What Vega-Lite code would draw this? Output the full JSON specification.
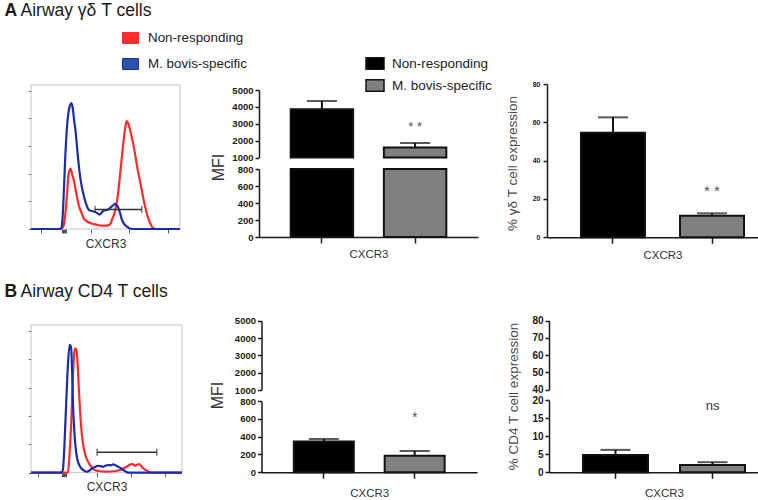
{
"$schema": "https://vega.github.io/schema/vega-lite/v6.json",
"width": 758, "height": 500, "padding": 0, "autosize": {"type": "none"},
"background": "white",
"config": {"font": "Liberation Sans", "view": {"stroke": null},
  "axis": {"grid": false, "labelFont": "Liberation Sans", "titleFont": "Liberation Sans", "domainColor": "#1a1a1a", "tickColor": "#1a1a1a", "labelColor": "#1a1a1a", "titleColor": "#333333", "titleFontWeight": "normal"},
  "legend": {"labelFont": "Liberation Sans"}},
"datasets": {
  "histA": [
    {"series":"Non-responding","x":0,"y":0},{"series":"Non-responding","x":200,"y":0},{"series":"Non-responding","x":218,"y":2},{"series":"Non-responding","x":232,"y":12},{"series":"Non-responding","x":241,"y":23},{"series":"Non-responding","x":252,"y":38},{"series":"Non-responding","x":264,"y":42},{"series":"Non-responding","x":276,"y":38},{"series":"Non-responding","x":287,"y":34},{"series":"Non-responding","x":305,"y":24},{"series":"Non-responding","x":322,"y":16},{"series":"Non-responding","x":340,"y":11},{"series":"Non-responding","x":356,"y":7},{"series":"Non-responding","x":380,"y":5},{"series":"Non-responding","x":402,"y":4},{"series":"Non-responding","x":440,"y":3},{"series":"Non-responding","x":471,"y":2.3},{"series":"Non-responding","x":500,"y":2.3},{"series":"Non-responding","x":522,"y":2.7},{"series":"Non-responding","x":535,"y":4},{"series":"Non-responding","x":545,"y":6.8},{"series":"Non-responding","x":560,"y":11},{"series":"Non-responding","x":575,"y":18},{"series":"Non-responding","x":590,"y":30},{"series":"Non-responding","x":605,"y":45},{"series":"Non-responding","x":620,"y":60},{"series":"Non-responding","x":632,"y":70},{"series":"Non-responding","x":642,"y":75},{"series":"Non-responding","x":650,"y":74},{"series":"Non-responding","x":667,"y":68},{"series":"Non-responding","x":680,"y":62},{"series":"Non-responding","x":690,"y":57},{"series":"Non-responding","x":700,"y":51},{"series":"Non-responding","x":713,"y":43},{"series":"Non-responding","x":730,"y":34},{"series":"Non-responding","x":747,"y":25},{"series":"Non-responding","x":765,"y":16},{"series":"Non-responding","x":782,"y":9},{"series":"Non-responding","x":800,"y":4},{"series":"Non-responding","x":816,"y":1},{"series":"Non-responding","x":839,"y":0},{"series":"Non-responding","x":1000,"y":0},
    {"series":"M. bovis-specific","x":0,"y":0},{"series":"M. bovis-specific","x":195,"y":0},{"series":"M. bovis-specific","x":207,"y":2},{"series":"M. bovis-specific","x":218,"y":20},{"series":"M. bovis-specific","x":230,"y":50},{"series":"M. bovis-specific","x":245,"y":75},{"series":"M. bovis-specific","x":262,"y":86},{"series":"M. bovis-specific","x":271,"y":87.5},{"series":"M. bovis-specific","x":280,"y":84},{"series":"M. bovis-specific","x":290,"y":75},{"series":"M. bovis-specific","x":299,"y":68},{"series":"M. bovis-specific","x":315,"y":50},{"series":"M. bovis-specific","x":333,"y":34},{"series":"M. bovis-specific","x":350,"y":25},{"series":"M. bovis-specific","x":368,"y":18},{"series":"M. bovis-specific","x":391,"y":13},{"series":"M. bovis-specific","x":410,"y":12.5},{"series":"M. bovis-specific","x":425,"y":12},{"series":"M. bovis-specific","x":445,"y":11},{"series":"M. bovis-specific","x":460,"y":10},{"series":"M. bovis-specific","x":472,"y":11},{"series":"M. bovis-specific","x":483,"y":12.5},{"series":"M. bovis-specific","x":500,"y":13},{"series":"M. bovis-specific","x":517,"y":13.6},{"series":"M. bovis-specific","x":530,"y":14.5},{"series":"M. bovis-specific","x":540,"y":15.5},{"series":"M. bovis-specific","x":552,"y":16.5},{"series":"M. bovis-specific","x":563,"y":17.5},{"series":"M. bovis-specific","x":572,"y":17},{"series":"M. bovis-specific","x":586,"y":14.8},{"series":"M. bovis-specific","x":598,"y":11},{"series":"M. bovis-specific","x":609,"y":6.8},{"series":"M. bovis-specific","x":625,"y":3.5},{"series":"M. bovis-specific","x":644,"y":1.6},{"series":"M. bovis-specific","x":660,"y":0.5},{"series":"M. bovis-specific","x":678,"y":0},{"series":"M. bovis-specific","x":1000,"y":0}
  ],
  "histB": [
    {"series":"Non-responding","x":0,"y":0},{"series":"Non-responding","x":244,"y":0},{"series":"Non-responding","x":255,"y":12},{"series":"Non-responding","x":267,"y":35.7},{"series":"Non-responding","x":278,"y":65},{"series":"Non-responding","x":289,"y":84},{"series":"Non-responding","x":297,"y":84},{"series":"Non-responding","x":304,"y":80.8},{"series":"Non-responding","x":313,"y":65},{"series":"Non-responding","x":322,"y":47},{"series":"Non-responding","x":333,"y":30},{"series":"Non-responding","x":344,"y":20},{"series":"Non-responding","x":360,"y":12},{"series":"Non-responding","x":378,"y":7.4},{"series":"Non-responding","x":400,"y":4},{"series":"Non-responding","x":422,"y":1.8},{"series":"Non-responding","x":460,"y":1},{"series":"Non-responding","x":500,"y":0.7},{"series":"Non-responding","x":550,"y":1},{"series":"Non-responding","x":589,"y":1.8},{"series":"Non-responding","x":611,"y":2.8},{"series":"Non-responding","x":633,"y":4},{"series":"Non-responding","x":650,"y":5.2},{"series":"Non-responding","x":667,"y":5.9},{"series":"Non-responding","x":678,"y":5.5},{"series":"Non-responding","x":689,"y":4.7},{"series":"Non-responding","x":700,"y":5.2},{"series":"Non-responding","x":711,"y":5.9},{"series":"Non-responding","x":722,"y":5.5},{"series":"Non-responding","x":733,"y":4},{"series":"Non-responding","x":750,"y":2.5},{"series":"Non-responding","x":767,"y":1.4},{"series":"Non-responding","x":785,"y":0.5},{"series":"Non-responding","x":800,"y":0},{"series":"Non-responding","x":1000,"y":0},
    {"series":"M. bovis-specific","x":0,"y":0},{"series":"M. bovis-specific","x":200,"y":0},{"series":"M. bovis-specific","x":211,"y":2},{"series":"M. bovis-specific","x":222,"y":20},{"series":"M. bovis-specific","x":233,"y":47},{"series":"M. bovis-specific","x":244,"y":72},{"series":"M. bovis-specific","x":256,"y":86.5},{"series":"M. bovis-specific","x":262,"y":86},{"series":"M. bovis-specific","x":267,"y":83},{"series":"M. bovis-specific","x":272,"y":70},{"series":"M. bovis-specific","x":278,"y":47},{"series":"M. bovis-specific","x":289,"y":25},{"series":"M. bovis-specific","x":300,"y":13},{"series":"M. bovis-specific","x":316,"y":6},{"series":"M. bovis-specific","x":333,"y":3},{"series":"M. bovis-specific","x":350,"y":1.5},{"series":"M. bovis-specific","x":367,"y":0.7},{"series":"M. bovis-specific","x":383,"y":1.2},{"series":"M. bovis-specific","x":400,"y":2.5},{"series":"M. bovis-specific","x":422,"y":3.8},{"series":"M. bovis-specific","x":444,"y":4.7},{"series":"M. bovis-specific","x":460,"y":4.5},{"series":"M. bovis-specific","x":478,"y":4},{"series":"M. bovis-specific","x":495,"y":4.8},{"series":"M. bovis-specific","x":511,"y":5.2},{"series":"M. bovis-specific","x":528,"y":5},{"series":"M. bovis-specific","x":544,"y":5.6},{"series":"M. bovis-specific","x":560,"y":5},{"series":"M. bovis-specific","x":578,"y":4},{"series":"M. bovis-specific","x":595,"y":3},{"series":"M. bovis-specific","x":611,"y":1.8},{"series":"M. bovis-specific","x":628,"y":0.8},{"series":"M. bovis-specific","x":644,"y":0},{"series":"M. bovis-specific","x":1000,"y":0}
  ],
  "gateA": [{"x1":430,"x2":743,"y":13.6}],
  "gateB": [{"x1":438,"x2":833,"y":13.8}],
  "mfiA": [{"group":"Non-responding","mean":3860,"upper":4350,"sig":"","sigY":null},{"group":"M. bovis-specific","mean":1600,"upper":1860,"sig":"* *","sigY":2600}],
  "pctA": [{"group":"Non-responding","mean":54.6,"upper":62.6,"sig":"","sigY":null},{"group":"M. bovis-specific","mean":11.3,"upper":12.5,"sig":"* *","sigY":21.4}],
  "mfiB": [{"group":"Non-responding","mean":345,"upper":374,"sig":"","sigY":null},{"group":"M. bovis-specific","mean":186,"upper":239,"sig":"*","sigY":561}],
  "pctB": [{"group":"Non-responding","mean":4.8,"upper":6.2,"sig":"","sigY":null},{"group":"M. bovis-specific","mean":2.0,"upper":2.8,"sig":"ns","sigY":17.3}]
},
"layer": [
  {
    "layer": [
      {"data": {"values": [{}]}, "mark": {"type": "rect", "fillOpacity": 0, "stroke": "#c4c4c4", "strokeWidth": 1},
       "encoding": {
        "x": {"datum": 0, "type": "quantitative", "scale": {"domain": [0,1000], "range": [31,180], "nice": false, "zero": false}, "axis": null},
        "x2": {"datum": 1000},
        "y": {"datum": 0, "type": "quantitative", "scale": {"domain": [0,100], "range": [229,85], "nice": false, "zero": false},
              "axis": {"orient": "left", "offset": -31, "domain": false, "ticks": false, "labels": false, "title": "Airway γδ T cells", "titleX": -11, "titleY": 15.5, "titleAngle": 0, "titleAlign": "left", "titleBaseline": "alphabetic", "titleFontSize": 17.5, "titleFontWeight": "normal", "titleColor": "#1a1a1a"}},
        "y2": {"datum": 100}}},
      {"layer": [
        {"data": {"name": "histA"}, "mark": {"type": "line", "interpolate": "monotone", "strokeWidth": 2.2},
         "encoding": {
          "x": {"field": "x", "type": "quantitative", "scale": {"domain": [0,1000], "range": [31,180], "nice": false, "zero": false},
                "axis": {"orient": "bottom", "offset": -271, "domain": false, "labels": false, "values": [69,205,212,219,226,233,402,655,920], "tickSize": 4, "tickWidth": 1, "tickColor": "#555555", "title": "CXCR3", "titleFontSize": 12, "titlePadding": 5, "titleColor": "#333333"}},
          "y": {"field": "y", "type": "quantitative", "scale": {"domain": [0,100], "range": [229,85], "nice": false, "zero": false},
                "axis": {"orient": "left", "offset": -31, "domain": false, "labels": false, "values": [0,19.2,38.4,57.6,76.8,96], "tickSize": 2.5, "tickColor": "#555555", "title": "A", "titleX": -27, "titleY": 15.5, "titleAngle": 0, "titleAlign": "left", "titleBaseline": "alphabetic", "titleFontSize": 17.5, "titleFontWeight": "bold", "titleColor": "#1a1a1a"}},
          "stroke": {"field": "series", "type": "nominal", "scale": {"domain": ["Non-responding","M. bovis-specific"], "range": ["#ff2a2a","#1c2ca8"]},
            "legend": {"orient": "none", "legendX": 122, "legendY": 29.5, "direction": "vertical", "title": null, "symbolType": "M-1,-0.69H1V0.69H-1Z", "symbolSize": 256, "symbolStrokeWidth": 1, "symbolOpacity": 1, "labelFontSize": 13.4, "labelColor": "#222222", "labelOffset": 9, "rowPadding": 9, "padding": 0,
              "encode": {"symbols": {"update": {"fill": {"signal": "datum.value === 'Non-responding' ? '#ff2a2a' : '#2e52a5'"}, "stroke": {"signal": "datum.value === 'Non-responding' ? '#ff2a2a' : '#1c2c80'"}, "fillOpacity": {"value": 1}}}}}}}},
        {"data": {"name": "gateA"}, "mark": {"type": "rule", "color": "#333333", "strokeWidth": 1.5},
         "encoding": {"x": {"field": "x1", "type": "quantitative", "scale": {"domain": [0,1000], "range": [31,180], "nice": false, "zero": false},
                "axis": {"orient": "bottom", "offset": -271, "domain": false, "labels": false, "values": [69,205,212,219,226,233,402,655,920], "tickSize": 4, "tickWidth": 1, "tickColor": "#555555", "title": "CXCR3", "titleFontSize": 12, "titlePadding": 5, "titleColor": "#333333"}},
                      "x2": {"field": "x2"},
                      "y": {"field": "y", "type": "quantitative", "scale": {"domain": [0,100], "range": [229,85], "nice": false, "zero": false},
                "axis": {"orient": "left", "offset": -31, "domain": false, "labels": false, "values": [0,19.2,38.4,57.6,76.8,96], "tickSize": 2.5, "tickColor": "#555555", "title": "A", "titleX": -27, "titleY": 15.5, "titleAngle": 0, "titleAlign": "left", "titleBaseline": "alphabetic", "titleFontSize": 17.5, "titleFontWeight": "bold", "titleColor": "#1a1a1a"}}}},
        {"data": {"name": "gateA"}, "mark": {"type": "tick", "orient": "vertical", "size": 7, "thickness": 1.5, "color": "#333333"},
         "encoding": {"x": {"field": "x1", "type": "quantitative", "scale": {"domain": [0,1000], "range": [31,180], "nice": false, "zero": false},
                "axis": {"orient": "bottom", "offset": -271, "domain": false, "labels": false, "values": [69,205,212,219,226,233,402,655,920], "tickSize": 4, "tickWidth": 1, "tickColor": "#555555", "title": "CXCR3", "titleFontSize": 12, "titlePadding": 5, "titleColor": "#333333"}},
                      "y": {"field": "y", "type": "quantitative", "scale": {"domain": [0,100], "range": [229,85], "nice": false, "zero": false},
                "axis": {"orient": "left", "offset": -31, "domain": false, "labels": false, "values": [0,19.2,38.4,57.6,76.8,96], "tickSize": 2.5, "tickColor": "#555555", "title": "A", "titleX": -27, "titleY": 15.5, "titleAngle": 0, "titleAlign": "left", "titleBaseline": "alphabetic", "titleFontSize": 17.5, "titleFontWeight": "bold", "titleColor": "#1a1a1a"}}}},
        {"data": {"name": "gateA"}, "mark": {"type": "tick", "orient": "vertical", "size": 7, "thickness": 1.5, "color": "#333333"},
         "encoding": {"x": {"field": "x2", "type": "quantitative", "scale": {"domain": [0,1000], "range": [31,180], "nice": false, "zero": false},
                "axis": {"orient": "bottom", "offset": -271, "domain": false, "labels": false, "values": [69,205,212,219,226,233,402,655,920], "tickSize": 4, "tickWidth": 1, "tickColor": "#555555", "title": "CXCR3", "titleFontSize": 12, "titlePadding": 5, "titleColor": "#333333"}},
                      "y": {"field": "y", "type": "quantitative", "scale": {"domain": [0,100], "range": [229,85], "nice": false, "zero": false},
                "axis": {"orient": "left", "offset": -31, "domain": false, "labels": false, "values": [0,19.2,38.4,57.6,76.8,96], "tickSize": 2.5, "tickColor": "#555555", "title": "A", "titleX": -27, "titleY": 15.5, "titleAngle": 0, "titleAlign": "left", "titleBaseline": "alphabetic", "titleFontSize": 17.5, "titleFontWeight": "bold", "titleColor": "#1a1a1a"}}}}
      ]}
    ],
    "resolve": {"scale": {"x": "independent", "y": "independent"}, "axis": {"x": "independent", "y": "independent"}}
  },
  {
    "data": {"name": "mfiA"},
    "encoding": {"x": {"field": "group", "type": "nominal", "scale": {"domain": ["Non-responding","M. bovis-specific"], "range": [259,478], "paddingInner": 0.33, "paddingOuter": 0.34},
      "axis": {"orient": "bottom", "offset": -263, "labels": false, "tickSize": 6, "tickWidth": 1.5, "domainWidth": 1.5, "title": "CXCR3", "titleFontSize": 11.5, "titlePadding": 5, "titleColor": "#333333"}}},
    "layer": [
      {"layer": [
        {"transform": [{"filter": "datum.mean > 1000"}], "mark": {"type": "bar", "stroke": "#111111", "strokeWidth": 2},
         "encoding": {"y": {"field": "mean", "type": "quantitative", "scale": {"domain": [1000,5000], "range": [157.5,90], "nice": false, "zero": false},
            "axis": {"orient": "left", "offset": -259, "values": [1000,2000,3000,4000,5000], "format": "d", "tickSize": 4, "tickWidth": 1.5, "domainWidth": 1.5, "labelFontSize": 9.5, "labelFontWeight": "bold", "labelPadding": 2, "title": null}},
           "y2": {"datum": 1000},
           "fill": {"field": "group", "type": "nominal", "scale": {"domain": ["Non-responding","M. bovis-specific"], "range": ["#000000","#808080"]},
             "legend": {"orient": "none", "legendX": 365, "legendY": 53.5, "direction": "vertical", "title": null, "symbolType": "M-1,-0.65H1V0.65H-1Z", "symbolSize": 324, "symbolStrokeColor": "#111111", "symbolStrokeWidth": 1.5, "symbolOpacity": 1, "labelFontSize": 13.5, "labelColor": "#222222", "labelOffset": 7, "rowPadding": 3, "padding": 0}}}},
        {"transform": [{"filter": "datum.mean > 1000"}], "mark": {"type": "rule", "color": "#111111", "strokeWidth": 2},
         "encoding": {"y": {"field": "mean", "type": "quantitative", "scale": {"domain": [1000,5000], "range": [157.5,90], "nice": false, "zero": false},
            "axis": {"orient": "left", "offset": -259, "values": [1000,2000,3000,4000,5000], "format": "d", "tickSize": 4, "tickWidth": 1.5, "domainWidth": 1.5, "labelFontSize": 9.5, "labelFontWeight": "bold", "labelPadding": 2, "title": null}},
           "y2": {"field": "upper"}}},
        {"transform": [{"filter": "datum.mean > 1000"}], "mark": {"type": "tick", "orient": "horizontal", "size": 30, "thickness": 2, "color": "#111111"},
         "encoding": {"y": {"field": "upper", "type": "quantitative", "scale": {"domain": [1000,5000], "range": [157.5,90], "nice": false, "zero": false},
            "axis": {"orient": "left", "offset": -259, "values": [1000,2000,3000,4000,5000], "format": "d", "tickSize": 4, "tickWidth": 1.5, "domainWidth": 1.5, "labelFontSize": 9.5, "labelFontWeight": "bold", "labelPadding": 2, "title": null}}}},
        {"transform": [{"filter": "datum.sig !== '' && datum.sigY > 1000"}], "mark": {"type": "text", "fontSize": 13, "color": "#555555", "baseline": "alphabetic"},
         "encoding": {"y": {"field": "sigY", "type": "quantitative", "scale": {"domain": [1000,5000], "range": [157.5,90], "nice": false, "zero": false},
            "axis": {"orient": "left", "offset": -259, "values": [1000,2000,3000,4000,5000], "format": "d", "tickSize": 4, "tickWidth": 1.5, "domainWidth": 1.5, "labelFontSize": 9.5, "labelFontWeight": "bold", "labelPadding": 2, "title": null}},
           "text": {"field": "sig"}}}
      ]},
      {"layer": [
        {"mark": {"type": "bar", "stroke": "#111111", "strokeWidth": 2},
         "encoding": {"y": {"field": "mean", "type": "quantitative", "scale": {"domain": [0,800], "range": [237,169], "nice": false, "zero": false, "clamp": true},
            "axis": {"orient": "left", "offset": -259, "values": [0,200,400,600,800], "format": "d", "tickSize": 4, "tickWidth": 1.5, "domainWidth": 1.5, "labelFontSize": 9.5, "labelFontWeight": "bold", "labelPadding": 2,
                     "title": "MFI", "titleX": -41, "titleY": 167, "titleAngle": 270, "titleAlign": "center", "titleBaseline": "middle", "titleFontSize": 16, "titleColor": "#333333"}},
           "y2": {"datum": 0},
           "fill": {"field": "group", "type": "nominal", "scale": {"domain": ["Non-responding","M. bovis-specific"], "range": ["#000000","#808080"]},
             "legend": {"orient": "none", "legendX": 365, "legendY": 53.5, "direction": "vertical", "title": null, "symbolType": "M-1,-0.65H1V0.65H-1Z", "symbolSize": 324, "symbolStrokeColor": "#111111", "symbolStrokeWidth": 1.5, "symbolOpacity": 1, "labelFontSize": 13.5, "labelColor": "#222222", "labelOffset": 7, "rowPadding": 3, "padding": 0}}}}
      ]}
    ],
    "resolve": {"scale": {"y": "independent"}, "axis": {"y": "independent"}}
  },
  {
    "data": {"name": "pctA"},
    "encoding": {"x": {"field": "group", "type": "nominal", "scale": {"domain": ["Non-responding","M. bovis-specific"], "range": [547,778], "paddingInner": 0.354, "paddingOuter": 0.343},
      "axis": {"orient": "bottom", "offset": -262.7, "labels": false, "tickSize": 6, "tickWidth": 1.5, "domainWidth": 1.5, "title": "CXCR3", "titleFontSize": 11.5, "titlePadding": 5, "titleColor": "#333333"}}},
    "layer": [
      {"mark": {"type": "bar", "stroke": "#111111", "strokeWidth": 2},
       "encoding": {"y": {"field": "mean", "type": "quantitative", "scale": {"domain": [0,80], "range": [237.3,84], "nice": false, "zero": false},
          "axis": {"orient": "left", "offset": -547, "values": [0,20,40,60,80], "tickSize": 4, "tickWidth": 1.5, "domainWidth": 1.5, "labelFontSize": 7, "labelFontWeight": "bold", "labelPadding": 3,
                   "title": "% γδ T cell expression", "titleX": -35, "titleY": 163, "titleAngle": 270, "titleAlign": "center", "titleBaseline": "middle", "titleFontSize": 13.5, "titleColor": "#4a4a4a"}},
         "y2": {"datum": 0},
         "fill": {"field": "group", "type": "nominal", "scale": {"domain": ["Non-responding","M. bovis-specific"], "range": ["#000000","#808080"]}, "legend": null}}},
      {"mark": {"type": "rule", "color": "#111111", "strokeWidth": 2},
       "encoding": {"y": {"field": "mean", "type": "quantitative", "scale": {"domain": [0,80], "range": [237.3,84], "nice": false, "zero": false},
          "axis": {"orient": "left", "offset": -547, "values": [0,20,40,60,80], "tickSize": 4, "tickWidth": 1.5, "domainWidth": 1.5, "labelFontSize": 7, "labelFontWeight": "bold", "labelPadding": 3,
                   "title": "% γδ T cell expression", "titleX": -35, "titleY": 163, "titleAngle": 270, "titleAlign": "center", "titleBaseline": "middle", "titleFontSize": 13.5, "titleColor": "#4a4a4a"}},
         "y2": {"field": "upper"}}},
      {"mark": {"type": "tick", "orient": "horizontal", "size": 30, "thickness": 2, "color": "#111111"},
       "encoding": {"y": {"field": "upper", "type": "quantitative", "scale": {"domain": [0,80], "range": [237.3,84], "nice": false, "zero": false},
          "axis": {"orient": "left", "offset": -547, "values": [0,20,40,60,80], "tickSize": 4, "tickWidth": 1.5, "domainWidth": 1.5, "labelFontSize": 7, "labelFontWeight": "bold", "labelPadding": 3,
                   "title": "% γδ T cell expression", "titleX": -35, "titleY": 163, "titleAngle": 270, "titleAlign": "center", "titleBaseline": "middle", "titleFontSize": 13.5, "titleColor": "#4a4a4a"}}}},
      {"transform": [{"filter": "datum.sig !== ''"}], "mark": {"type": "text", "fontSize": 15, "color": "#555555", "baseline": "alphabetic"},
       "encoding": {"y": {"field": "sigY", "type": "quantitative", "scale": {"domain": [0,80], "range": [237.3,84], "nice": false, "zero": false},
          "axis": {"orient": "left", "offset": -547, "values": [0,20,40,60,80], "tickSize": 4, "tickWidth": 1.5, "domainWidth": 1.5, "labelFontSize": 7, "labelFontWeight": "bold", "labelPadding": 3,
                   "title": "% γδ T cell expression", "titleX": -35, "titleY": 163, "titleAngle": 270, "titleAlign": "center", "titleBaseline": "middle", "titleFontSize": 13.5, "titleColor": "#4a4a4a"}},
         "text": {"field": "sig"}}}
    ]
  },
  {
    "layer": [
      {"data": {"values": [{}]}, "mark": {"type": "rect", "fillOpacity": 0, "stroke": "#c4c4c4", "strokeWidth": 1},
       "encoding": {
        "x": {"datum": 0, "type": "quantitative", "scale": {"domain": [0,1000], "range": [31,182], "nice": false, "zero": false}, "axis": null},
        "x2": {"datum": 1000},
        "y": {"datum": 0, "type": "quantitative", "scale": {"domain": [0,100], "range": [472.7,325], "nice": false, "zero": false},
              "axis": {"orient": "left", "offset": -31, "domain": false, "ticks": false, "labels": false, "title": "Airway CD4 T cells", "titleX": -11, "titleY": 296, "titleAngle": 0, "titleAlign": "left", "titleBaseline": "alphabetic", "titleFontSize": 17.5, "titleFontWeight": "normal", "titleColor": "#1a1a1a"}},
        "y2": {"datum": 100}}},
      {"layer": [
        {"data": {"name": "histB"}, "mark": {"type": "line", "interpolate": "monotone", "strokeWidth": 2.2},
         "encoding": {
          "x": {"field": "x", "type": "quantitative", "scale": {"domain": [0,1000], "range": [31,182], "nice": false, "zero": false},
                "axis": {"orient": "bottom", "offset": -27.3, "domain": false, "labels": false, "values": [45,205,212,219,226,233,440,660,890], "tickSize": 4, "tickWidth": 1, "tickColor": "#555555", "title": "CXCR3", "titleFontSize": 12, "titlePadding": 4, "titleColor": "#333333"}},
          "y": {"field": "y", "type": "quantitative", "scale": {"domain": [0,100], "range": [472.7,325], "nice": false, "zero": false},
                "axis": {"orient": "left", "offset": -31, "domain": false, "labels": false, "values": [0,19.2,38.4,57.6,76.8,96], "tickSize": 2.5, "tickColor": "#555555", "title": "B", "titleX": -27, "titleY": 296, "titleAngle": 0, "titleAlign": "left", "titleBaseline": "alphabetic", "titleFontSize": 17.5, "titleFontWeight": "bold", "titleColor": "#1a1a1a"}},
          "stroke": {"field": "series", "type": "nominal", "scale": {"domain": ["Non-responding","M. bovis-specific"], "range": ["#ff2a2a","#1c2ca8"]}, "legend": null}}},
        {"data": {"name": "gateB"}, "mark": {"type": "rule", "color": "#333333", "strokeWidth": 1.5},
         "encoding": {"x": {"field": "x1", "type": "quantitative", "scale": {"domain": [0,1000], "range": [31,182], "nice": false, "zero": false},
                "axis": {"orient": "bottom", "offset": -27.3, "domain": false, "labels": false, "values": [45,205,212,219,226,233,440,660,890], "tickSize": 4, "tickWidth": 1, "tickColor": "#555555", "title": "CXCR3", "titleFontSize": 12, "titlePadding": 4, "titleColor": "#333333"}},
                      "x2": {"field": "x2"},
                      "y": {"field": "y", "type": "quantitative", "scale": {"domain": [0,100], "range": [472.7,325], "nice": false, "zero": false},
                "axis": {"orient": "left", "offset": -31, "domain": false, "labels": false, "values": [0,19.2,38.4,57.6,76.8,96], "tickSize": 2.5, "tickColor": "#555555", "title": "B", "titleX": -27, "titleY": 296, "titleAngle": 0, "titleAlign": "left", "titleBaseline": "alphabetic", "titleFontSize": 17.5, "titleFontWeight": "bold", "titleColor": "#1a1a1a"}}}},
        {"data": {"name": "gateB"}, "mark": {"type": "tick", "orient": "vertical", "size": 7, "thickness": 1.5, "color": "#333333"},
         "encoding": {"x": {"field": "x1", "type": "quantitative", "scale": {"domain": [0,1000], "range": [31,182], "nice": false, "zero": false},
                "axis": {"orient": "bottom", "offset": -27.3, "domain": false, "labels": false, "values": [45,205,212,219,226,233,440,660,890], "tickSize": 4, "tickWidth": 1, "tickColor": "#555555", "title": "CXCR3", "titleFontSize": 12, "titlePadding": 4, "titleColor": "#333333"}},
                      "y": {"field": "y", "type": "quantitative", "scale": {"domain": [0,100], "range": [472.7,325], "nice": false, "zero": false},
                "axis": {"orient": "left", "offset": -31, "domain": false, "labels": false, "values": [0,19.2,38.4,57.6,76.8,96], "tickSize": 2.5, "tickColor": "#555555", "title": "B", "titleX": -27, "titleY": 296, "titleAngle": 0, "titleAlign": "left", "titleBaseline": "alphabetic", "titleFontSize": 17.5, "titleFontWeight": "bold", "titleColor": "#1a1a1a"}}}},
        {"data": {"name": "gateB"}, "mark": {"type": "tick", "orient": "vertical", "size": 7, "thickness": 1.5, "color": "#333333"},
         "encoding": {"x": {"field": "x2", "type": "quantitative", "scale": {"domain": [0,1000], "range": [31,182], "nice": false, "zero": false},
                "axis": {"orient": "bottom", "offset": -27.3, "domain": false, "labels": false, "values": [45,205,212,219,226,233,440,660,890], "tickSize": 4, "tickWidth": 1, "tickColor": "#555555", "title": "CXCR3", "titleFontSize": 12, "titlePadding": 4, "titleColor": "#333333"}},
                      "y": {"field": "y", "type": "quantitative", "scale": {"domain": [0,100], "range": [472.7,325], "nice": false, "zero": false},
                "axis": {"orient": "left", "offset": -31, "domain": false, "labels": false, "values": [0,19.2,38.4,57.6,76.8,96], "tickSize": 2.5, "tickColor": "#555555", "title": "B", "titleX": -27, "titleY": 296, "titleAngle": 0, "titleAlign": "left", "titleBaseline": "alphabetic", "titleFontSize": 17.5, "titleFontWeight": "bold", "titleColor": "#1a1a1a"}}}}
      ]}
    ],
    "resolve": {"scale": {"x": "independent", "y": "independent"}, "axis": {"x": "independent", "y": "independent"}}
  },
  {
    "data": {"name": "mfiB"},
    "encoding": {"x": {"field": "group", "type": "nominal", "scale": {"domain": ["Non-responding","M. bovis-specific"], "range": [261.5,477], "paddingInner": 0.34, "paddingOuter": 0.356},
      "axis": {"orient": "bottom", "offset": -27.7, "labels": false, "tickSize": 6, "tickWidth": 1.5, "domainWidth": 1.5, "title": "CXCR3", "titleFontSize": 11.5, "titlePadding": 8, "titleColor": "#333333"}}},
    "layer": [
      {"layer": [
        {"transform": [{"filter": "datum.mean > 1000"}], "mark": {"type": "bar", "stroke": "#111111", "strokeWidth": 2},
         "encoding": {"y": {"field": "mean", "type": "quantitative", "scale": {"domain": [1000,5000], "range": [390,320.7], "nice": false, "zero": false},
            "axis": {"orient": "left", "offset": -261.5, "values": [1000,2000,3000,4000,5000], "format": "d", "tickSize": 4, "tickWidth": 1.5, "domainWidth": 1.5, "labelFontSize": 9.5, "labelFontWeight": "bold", "labelPadding": 2, "title": null}},
           "y2": {"datum": 1000},
           "fill": {"field": "group", "type": "nominal", "scale": {"domain": ["Non-responding","M. bovis-specific"], "range": ["#000000","#808080"]}, "legend": null}}}
      ]},
      {"layer": [
        {"mark": {"type": "bar", "stroke": "#111111", "strokeWidth": 2},
         "encoding": {"y": {"field": "mean", "type": "quantitative", "scale": {"domain": [0,800], "range": [472.3,401], "nice": false, "zero": false, "clamp": true},
            "axis": {"orient": "left", "offset": -261.5, "values": [0,200,400,600,800], "format": "d", "tickSize": 4, "tickWidth": 1.5, "domainWidth": 1.5, "labelFontSize": 9.5, "labelFontWeight": "bold", "labelPadding": 2,
                     "title": "MFI", "titleX": -44, "titleY": 395, "titleAngle": 270, "titleAlign": "center", "titleBaseline": "middle", "titleFontSize": 16, "titleColor": "#333333"}},
           "y2": {"datum": 0},
           "fill": {"field": "group", "type": "nominal", "scale": {"domain": ["Non-responding","M. bovis-specific"], "range": ["#000000","#808080"]}, "legend": null}}},
        {"mark": {"type": "rule", "color": "#111111", "strokeWidth": 2},
         "encoding": {"y": {"field": "mean", "type": "quantitative", "scale": {"domain": [0,800], "range": [472.3,401], "nice": false, "zero": false, "clamp": true},
            "axis": {"orient": "left", "offset": -261.5, "values": [0,200,400,600,800], "format": "d", "tickSize": 4, "tickWidth": 1.5, "domainWidth": 1.5, "labelFontSize": 9.5, "labelFontWeight": "bold", "labelPadding": 2,
                     "title": "MFI", "titleX": -44, "titleY": 395, "titleAngle": 270, "titleAlign": "center", "titleBaseline": "middle", "titleFontSize": 16, "titleColor": "#333333"}},
           "y2": {"field": "upper"}}},
        {"mark": {"type": "tick", "orient": "horizontal", "size": 30, "thickness": 2, "color": "#111111"},
         "encoding": {"y": {"field": "upper", "type": "quantitative", "scale": {"domain": [0,800], "range": [472.3,401], "nice": false, "zero": false, "clamp": true},
            "axis": {"orient": "left", "offset": -261.5, "values": [0,200,400,600,800], "format": "d", "tickSize": 4, "tickWidth": 1.5, "domainWidth": 1.5, "labelFontSize": 9.5, "labelFontWeight": "bold", "labelPadding": 2,
                     "title": "MFI", "titleX": -44, "titleY": 395, "titleAngle": 270, "titleAlign": "center", "titleBaseline": "middle", "titleFontSize": 16, "titleColor": "#333333"}}}},
        {"transform": [{"filter": "datum.sig !== ''"}], "mark": {"type": "text", "fontSize": 14, "color": "#555555", "baseline": "alphabetic"},
         "encoding": {"y": {"field": "sigY", "type": "quantitative", "scale": {"domain": [0,800], "range": [472.3,401], "nice": false, "zero": false, "clamp": true},
            "axis": {"orient": "left", "offset": -261.5, "values": [0,200,400,600,800], "format": "d", "tickSize": 4, "tickWidth": 1.5, "domainWidth": 1.5, "labelFontSize": 9.5, "labelFontWeight": "bold", "labelPadding": 2,
                     "title": "MFI", "titleX": -44, "titleY": 395, "titleAngle": 270, "titleAlign": "center", "titleBaseline": "middle", "titleFontSize": 16, "titleColor": "#333333"}},
           "text": {"field": "sig"}}}
      ]}
    ],
    "resolve": {"scale": {"y": "independent"}, "axis": {"y": "independent"}}
  },
  {
    "data": {"name": "pctB"},
    "encoding": {"x": {"field": "group", "type": "nominal", "scale": {"domain": ["Non-responding","M. bovis-specific"], "range": [549,779], "paddingInner": 0.33, "paddingOuter": 0.35},
      "axis": {"orient": "bottom", "offset": -27.7, "labels": false, "tickSize": 6, "tickWidth": 1.5, "domainWidth": 1.5, "title": "CXCR3", "titleFontSize": 11.5, "titlePadding": 8, "titleColor": "#333333"}}},
    "layer": [
      {"layer": [
        {"transform": [{"filter": "datum.mean > 40"}], "mark": {"type": "bar", "stroke": "#111111", "strokeWidth": 2},
         "encoding": {"y": {"field": "mean", "type": "quantitative", "scale": {"domain": [40,80], "range": [389.5,320.7], "nice": false, "zero": false},
            "axis": {"orient": "left", "offset": -549, "values": [40,50,60,70,80], "tickSize": 4, "tickWidth": 1.5, "domainWidth": 1.5, "labelFontSize": 10, "labelFontWeight": "bold", "labelPadding": 2, "title": null}},
           "y2": {"datum": 40},
           "fill": {"field": "group", "type": "nominal", "scale": {"domain": ["Non-responding","M. bovis-specific"], "range": ["#000000","#808080"]}, "legend": null}}}
      ]},
      {"layer": [
        {"mark": {"type": "bar", "stroke": "#111111", "strokeWidth": 2},
         "encoding": {"y": {"field": "mean", "type": "quantitative", "scale": {"domain": [0,20], "range": [472.3,400], "nice": false, "zero": false, "clamp": true},
            "axis": {"orient": "left", "offset": -549, "values": [0,5,10,15,20], "tickSize": 4, "tickWidth": 1.5, "domainWidth": 1.5, "labelFontSize": 10, "labelFontWeight": "bold", "labelPadding": 2,
                     "title": "% CD4 T cell expression", "titleX": -36, "titleY": 396, "titleAngle": 270, "titleAlign": "center", "titleBaseline": "middle", "titleFontSize": 13.5, "titleColor": "#4a4a4a"}},
           "y2": {"datum": 0},
           "fill": {"field": "group", "type": "nominal", "scale": {"domain": ["Non-responding","M. bovis-specific"], "range": ["#000000","#808080"]}, "legend": null}}},
        {"mark": {"type": "rule", "color": "#111111", "strokeWidth": 2},
         "encoding": {"y": {"field": "mean", "type": "quantitative", "scale": {"domain": [0,20], "range": [472.3,400], "nice": false, "zero": false, "clamp": true},
            "axis": {"orient": "left", "offset": -549, "values": [0,5,10,15,20], "tickSize": 4, "tickWidth": 1.5, "domainWidth": 1.5, "labelFontSize": 10, "labelFontWeight": "bold", "labelPadding": 2,
                     "title": "% CD4 T cell expression", "titleX": -36, "titleY": 396, "titleAngle": 270, "titleAlign": "center", "titleBaseline": "middle", "titleFontSize": 13.5, "titleColor": "#4a4a4a"}},
           "y2": {"field": "upper"}}},
        {"mark": {"type": "tick", "orient": "horizontal", "size": 30, "thickness": 2, "color": "#111111"},
         "encoding": {"y": {"field": "upper", "type": "quantitative", "scale": {"domain": [0,20], "range": [472.3,400], "nice": false, "zero": false, "clamp": true},
            "axis": {"orient": "left", "offset": -549, "values": [0,5,10,15,20], "tickSize": 4, "tickWidth": 1.5, "domainWidth": 1.5, "labelFontSize": 10, "labelFontWeight": "bold", "labelPadding": 2,
                     "title": "% CD4 T cell expression", "titleX": -36, "titleY": 396, "titleAngle": 270, "titleAlign": "center", "titleBaseline": "middle", "titleFontSize": 13.5, "titleColor": "#4a4a4a"}}}},
        {"transform": [{"filter": "datum.sig !== ''"}], "mark": {"type": "text", "fontSize": 13, "color": "#333333", "baseline": "alphabetic"},
         "encoding": {"y": {"field": "sigY", "type": "quantitative", "scale": {"domain": [0,20], "range": [472.3,400], "nice": false, "zero": false, "clamp": true},
            "axis": {"orient": "left", "offset": -549, "values": [0,5,10,15,20], "tickSize": 4, "tickWidth": 1.5, "domainWidth": 1.5, "labelFontSize": 10, "labelFontWeight": "bold", "labelPadding": 2,
                     "title": "% CD4 T cell expression", "titleX": -36, "titleY": 396, "titleAngle": 270, "titleAlign": "center", "titleBaseline": "middle", "titleFontSize": 13.5, "titleColor": "#4a4a4a"}},
           "text": {"field": "sig"}}}
      ]}
    ],
    "resolve": {"scale": {"y": "independent"}, "axis": {"y": "independent"}}
  }
],
"resolve": {"scale": {"x": "independent", "y": "independent", "fill": "independent", "stroke": "independent"}, "axis": {"x": "independent", "y": "independent"}, "legend": {"fill": "independent", "stroke": "independent"}}
}
